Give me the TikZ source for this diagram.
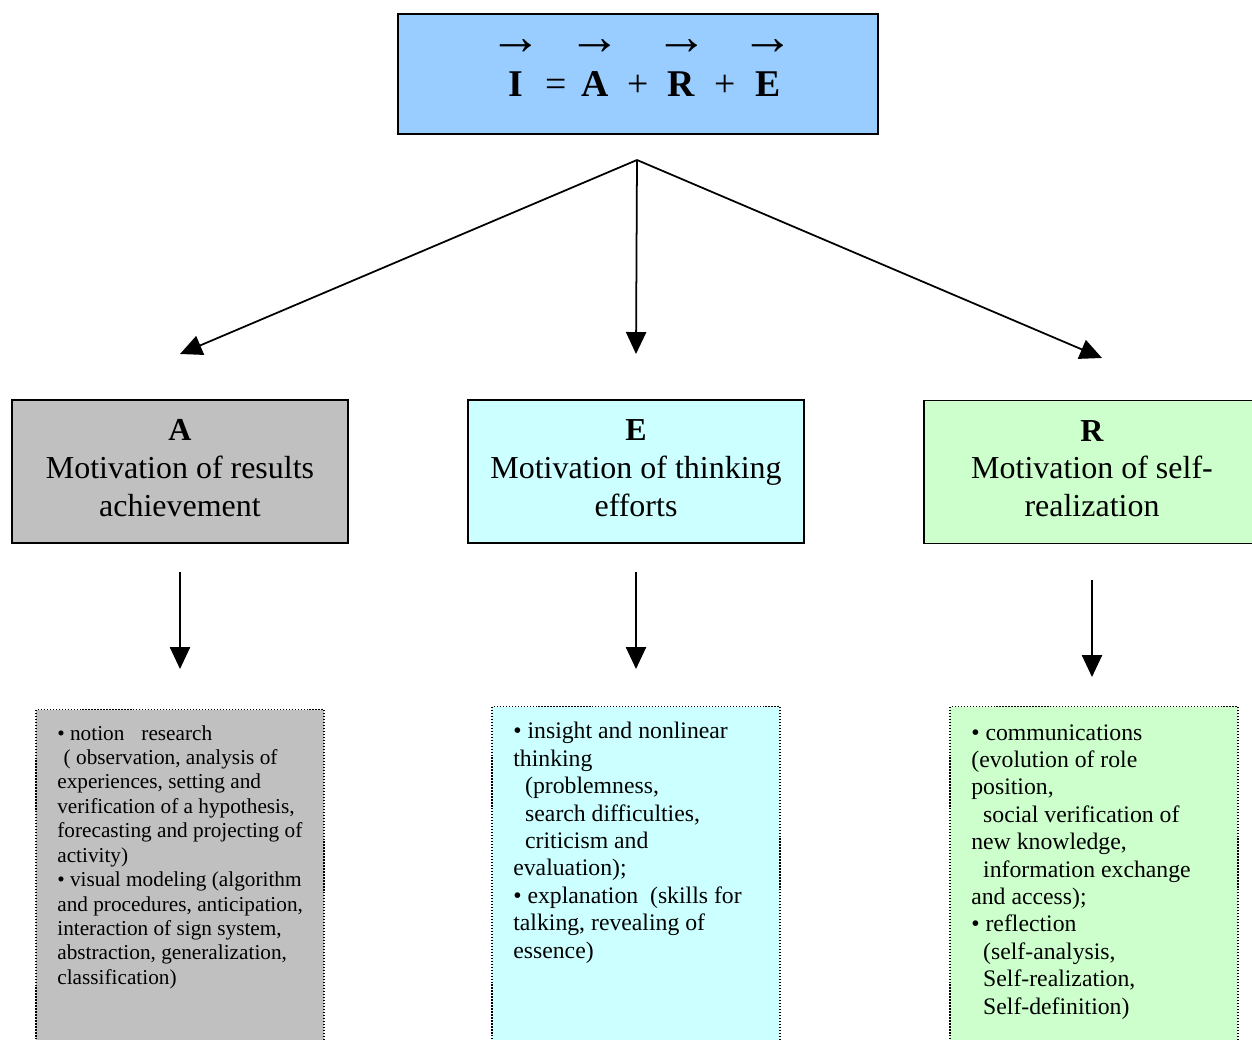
\documentclass[tikz,border=0pt]{standalone}
\usepackage{fontspec}
\setmainfont{Liberation Serif}
\usetikzlibrary{arrows.meta}

\definecolor{formulablue}{HTML}{99CCFF}
\definecolor{agray}{HTML}{C0C0C0}
\definecolor{ecyan}{HTML}{CCFFFF}
\definecolor{rgreen}{HTML}{CCFFCC}

\newcommand{\vecletter}[1]{\begin{tabular}[b]{@{}c@{}}{\fontsize{30}{30}\selectfont →}\\[0pt]\textbf{#1}\end{tabular}}

\tikzset{
  motivbox/.style={draw, line width=0.9pt, minimum width=6.72cm, minimum height=2.86cm},
  motivtext/.style={align=center, inner sep=0pt, font=\fontsize{18.2}{21.5}\selectfont},
  listbox/.style={draw, densely dotted, line width=0.7pt, minimum width=5.76cm,
    minimum height=7cm, anchor=north, inner sep=0pt},
  listtext/.style={anchor=north west, align=left, inner sep=0pt},
  tip/.style={-{Triangle[length=12.5pt,width=11.5pt]}, line width=1pt}
}

\begin{document}
\begin{tikzpicture}[x=0.02cm, y=-0.02cm]
  \useasboundingbox (0,0) rectangle (1252,1040);

  % Formula
  \node[draw, line width=1.1pt, fill=formulablue, minimum width=9.6cm, minimum height=2.4cm] (formula) at (638,74) {};
  \node[inner sep=0pt, font=\fontsize{21.5}{24}\selectfont] (formulatext) at (642,67)
    {\vecletter{I}\hspace{1.5pt}=\hspace{1.5pt}\vecletter{A}\hspace{3.5pt}+\hspace{3.5pt}\vecletter{R}\hspace{3.5pt}+\hspace{3.5pt}\vecletter{E}};

  % Motivation boxes
  \node[motivbox, fill=agray] (motA) at (180,471.5) {};
  \node[motivbox, fill=ecyan] (motE) at (636,471.5) {};
  \node[motivbox, fill=rgreen] (motR) at (1092,472) {};
  \node[motivtext] (motAtext) at (180,468) {\textbf{A}\\Motivation of results\\achievement};
  \node[motivtext] (motEtext) at (636,468) {\textbf{E}\\Motivation of thinking\\efforts};
  \node[motivtext] (motRtext) at (1092,468.5) {\textbf{R}\\Motivation of self-\\realization};

  % Arrow ends
  \coordinate (fork) at (637,160);
  \coordinate (tipA) at (180,354);
  \coordinate (tipE) at (636,354);
  \coordinate (tipR) at (1102,358);
  \draw[tip] (fork) -- (tipA);
  \draw[tip] (fork) -- (tipE);
  \draw[tip] (fork) -- (tipR);

  \coordinate (downA1) at (180,572);
  \coordinate (downA2) at (180,669);
  \coordinate (downE1) at (636,572);
  \coordinate (downE2) at (636,669);
  \coordinate (downR1) at (1092,580);
  \coordinate (downR2) at (1092,677);
  \draw[tip] (downA1) -- (downA2);
  \draw[tip] (downE1) -- (downE2);
  \draw[tip] (downR1) -- (downR2);

  % Lists
  \node[listbox, fill=agray] (listA) at (180,709) {};
  \node[listbox, fill=ecyan] (listE) at (636,706) {};
  \node[listbox, fill=rgreen] (listR) at (1094,706) {};

  \node[listtext, font=\fontsize{12.1}{13.9}\selectfont] (textA) at (57,725) {%
    • notion\hspace{0.8em}research\\
    \hspace{0.3em}( observation, analysis of\\
    experiences, setting and\\
    verification of a hypothesis,\\
    forecasting and projecting of\\
    activity)\\
    • visual modeling (algorithm\\
    and procedures, anticipation,\\
    interaction of sign system,\\
    abstraction, generalization,\\
    classification)};
  \node[listtext, font=\fontsize{13.5}{15.6}\selectfont] (textE) at (513,722) {%
    • insight and nonlinear\\
    thinking\\
    \hspace{0.5em}(problemness,\\
    \hspace{0.5em}search difficulties,\\
    \hspace{0.5em}criticism and\\
    evaluation);\\
    • explanation\hspace{0.5em}(skills for\\
    talking, revealing of\\
    essence)};
  \node[listtext, font=\fontsize{13.5}{15.6}\selectfont] (textR) at (971,724) {%
    • communications\\
    (evolution of role\\
    position,\\
    \hspace{0.5em}social verification of\\
    new knowledge,\\
    \hspace{0.5em}information exchange\\
    and access);\\
    • reflection\\
    \hspace{0.5em}(self-analysis,\\
    \hspace{0.5em}Self-realization,\\
    \hspace{0.5em}Self-definition)};
\end{tikzpicture}
\end{document}
